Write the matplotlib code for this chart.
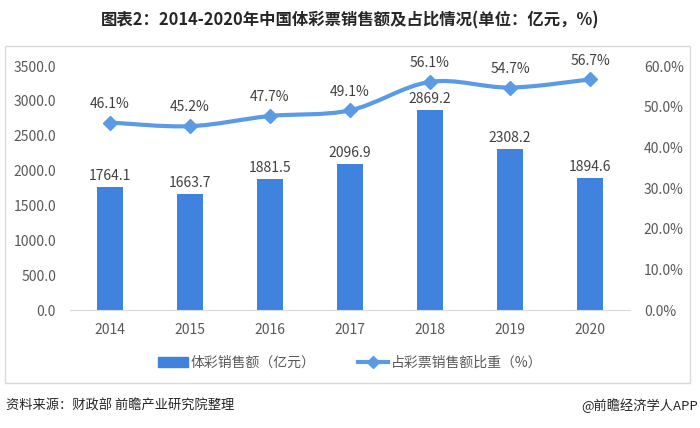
import matplotlib
matplotlib.use("Agg")
import matplotlib.pyplot as plt
from matplotlib.patches import Rectangle, PathPatch
from matplotlib.lines import Line2D
from matplotlib.path import Path

plt.rcParams['font.family'] = ['Noto Sans CJK SC', 'DejaVu Sans']

years = ['2014', '2015', '2016', '2017', '2018', '2019', '2020']
sales = [1764.1, 1663.7, 1881.5, 2096.9, 2869.2, 2308.2, 1894.6]
share = [46.1, 45.2, 47.7, 49.1, 56.1, 54.7, 56.7]
left_ticks = [0, 500, 1000, 1500, 2000, 2500, 3000, 3500]
right_ticks = [0, 10, 20, 30, 40, 50, 60]

bar_color = '#3f83df'
line_color = '#5b9be6'
text_color = '#595959'

fig = plt.figure(figsize=(7, 4.28), dpi=100)
W, H = 700, 428

# border box
fig.patches.append(Rectangle((5 / W, 1 - 383 / H), 685 / W, 337 / H, transform=fig.transFigure,
                             fill=False, edgecolor='#d9d9d9', linewidth=1))

ax = fig.add_axes([70 / W, 1 - 310 / H, 560 / W, 244 / H])
x = list(range(len(years)))
ax.bar(x, sales, width=0.32, color=bar_color, zorder=2)
ax.set_xlim(-0.5, len(years) - 0.5)
ax.set_ylim(0, 3500)
ax.set_yticks(left_ticks)
ax.set_yticklabels([f'{v:.1f}' for v in left_ticks], fontsize=10, color=text_color)
ax.set_xticks(x)
ax.set_xticklabels(years, fontsize=10, color=text_color)
for s in ['top', 'right', 'left']:
    ax.spines[s].set_visible(False)
ax.spines['bottom'].set_color('#d9d9d9')
ax.tick_params(length=0, pad=10)
ax.tick_params(axis='x', pad=9)
for xi, v in zip(x, sales):
    ax.annotate(f'{v:.1f}', (xi, v), xytext=(0, 8), textcoords='offset points',
                ha='center', va='center', fontsize=10, color='#404040')

ax2 = ax.twinx()
ax2.set_ylim(0, 60)
# smoothed line (Catmull-Rom style Bezier through the data points)
verts = [(x[0], share[0])]
codes = [Path.MOVETO]
n = len(x)
t = 1 / 6
for i in range(n - 1):
    p0 = (x[max(i - 1, 0)], share[max(i - 1, 0)])
    p1 = (x[i], share[i])
    p2 = (x[i + 1], share[i + 1])
    p3 = (x[min(i + 2, n - 1)], share[min(i + 2, n - 1)])
    c1 = (p1[0] + (p2[0] - p0[0]) * t, p1[1] + (p2[1] - p0[1]) * t)
    c2 = (p2[0] - (p3[0] - p1[0]) * t, p2[1] - (p3[1] - p1[1]) * t)
    verts += [c1, c2, p2]
    codes += [Path.CURVE4] * 3
ax2.add_patch(PathPatch(Path(verts, codes), fill=False, edgecolor=line_color,
                        linewidth=3, capstyle='round', zorder=3))
ax2.plot(x, share, linestyle='none', marker='D', markersize=7, color=line_color, zorder=4)
ax2.set_yticks(right_ticks)
ax2.set_yticklabels([f'{v:.1f}%' for v in right_ticks], fontsize=10, color=text_color)
for s in ['top', 'right', 'left', 'bottom']:
    ax2.spines[s].set_visible(False)
ax2.tick_params(length=0, pad=10)
for xi, v in zip(x, share):
    ax2.annotate(f'{v:.1f}%', (xi, v), xytext=(0, 13.5), textcoords='offset points',
                 ha='center', va='center', fontsize=10, color='#404040')

# title
fig.text(350 / W, 1 - 20 / H, '图表2：2014-2020年中国体彩票销售额及占比情况(单位：亿元，%)',
         ha='center', va='center', fontsize=11.8, fontweight='bold', color='#262626')

# legend
handles = [Rectangle((0, 0), 1, 1, color=bar_color),
           Line2D([0], [0], color=line_color, linewidth=3, marker='D', markersize=6)]
labels = ['体彩销售额（亿元）', '占彩票销售额比重（%）']
fig.legend(handles, labels, loc='center', bbox_to_anchor=(350 / W, 1 - 363 / H), ncol=2,
           frameon=False, fontsize=10, labelcolor=text_color, handlelength=2.2,
           columnspacing=3, handletextpad=0.2)

# footer
fig.text(6 / W, 1 - 406 / H, '资料来源：财政部 前瞻产业研究院整理', ha='left', va='center',
         fontsize=9.5, color='#262626')
fig.text(698 / W, 1 - 406 / H, '@前瞻经济学人APP', ha='right', va='center',
         fontsize=9.5, color='#262626')

fig.savefig('out.png', dpi=100)
